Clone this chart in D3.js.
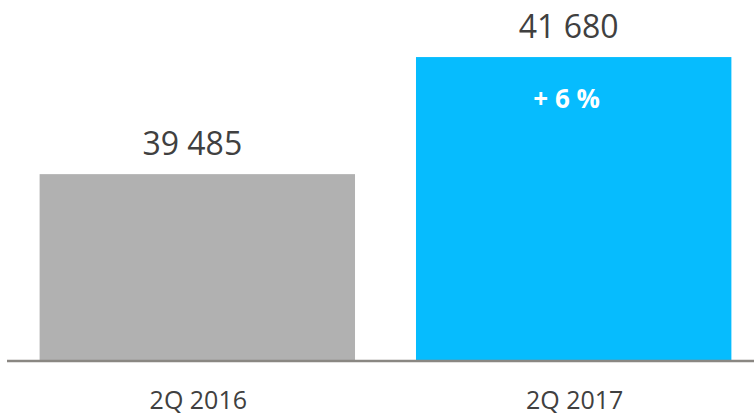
<!DOCTYPE html>
<html><head><meta charset="utf-8">
<script src="https://cdn.jsdelivr.net/npm/d3@7"></script>
<style>html,body{margin:0;padding:0;background:#fff;}svg{display:block;}</style>
</head><body>
<svg id="c" width="754" height="415"></svg>
<script>
const categories = ["2Q 2016", "2Q 2017"];
const values = [39485, 41680];
const valueLabels = ["39 485", "41 680"];
const changeLabel = "+ 6 %";
const colors = ["#b1b1b1", "#06bcfe"];

const svg = d3.select("#c");
const x = d3.scaleBand().domain(categories).range([9.5, 761.5]).paddingInner(0.162).paddingOuter(0.08);
const y = d3.scaleLinear().domain([36000, 42000]).range([360, 40]);

svg.selectAll("rect.bar").data(values).join("rect")
  .attr("class", "bar")
  .attr("x", (d, i) => x(categories[i]))
  .attr("width", x.bandwidth())
  .attr("y", d => y(d))
  .attr("height", d => y.range()[0] - y(d))
  .attr("fill", (d, i) => colors[i]);

svg.append("line")
  .attr("x1", 7).attr("x2", 754).attr("y1", 361).attr("y2", 361)
  .attr("stroke", "#8a8782").attr("stroke-width", 2.5);

svg.selectAll("text.val").data(values).join("text")
  .attr("class", "val")
  .attr("x", (d, i) => x(categories[i]) + x.bandwidth() / 2 - 5)
  .attr("y", d => y(d) - 19)
  .attr("text-anchor", "middle")
  .attr("font-family", "Open Sans")
  .attr("font-size", 32)
  .attr("fill", "#404040")
  .text((d, i) => valueLabels[i]);

svg.append("text")
  .attr("x", x(categories[1]) + x.bandwidth() / 2 - 7)
  .attr("y", y(values[1]) + 51)
  .attr("text-anchor", "middle")
  .attr("font-family", "Open Sans")
  .attr("font-weight", "bold")
  .attr("font-size", 26)
  .attr("fill", "#ffffff")
  .text(changeLabel);

svg.selectAll("text.cat").data(categories).join("text")
  .attr("class", "cat")
  .attr("x", d => x(d) + x.bandwidth() / 2 + 1)
  .attr("y", 409)
  .attr("text-anchor", "middle")
  .attr("font-family", "Open Sans")
  .attr("font-size", 25)
  .attr("fill", "#404040")
  .text(d => d);
</script>
</body></html>
